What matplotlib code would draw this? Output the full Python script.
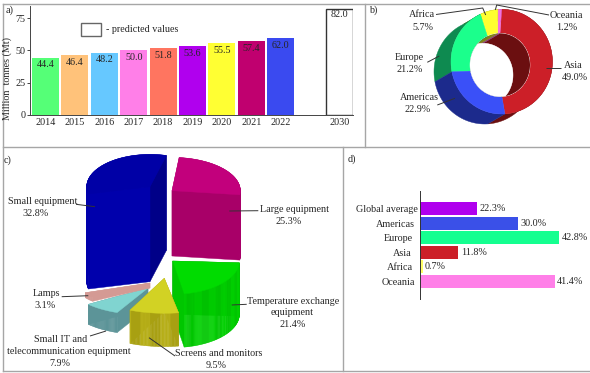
import numpy as np
import matplotlib
matplotlib.use('Agg')
import matplotlib.pyplot as plt
from matplotlib.patches import Polygon, Rectangle

plt.rcParams['font.family'] = ['Liberation Serif', 'DejaVu Serif']
plt.rcParams['font.size'] = 7.3
plt.rcParams['text.color'] = '#262626'
plt.rcParams['axes.labelcolor'] = '#262626'
plt.rcParams['xtick.color'] = '#262626'
plt.rcParams['ytick.color'] = '#262626'

W, H = 590, 373

# a) e-waste per year (the 2022 bar is drawn lower than its label in the source)
years = ['2014', '2015', '2016', '2017', '2018', '2019', '2020', '2021', '2022']
bar_heights = [44.4, 46.4, 48.2, 50.0, 51.8, 53.6, 55.5, 57.4, 59.3]
bar_labels = ['44.4', '46.4', '48.2', '50.0', '51.8', '53.6', '55.5', '57.4', '62.0']
year_colors = ['#55ff77', '#ffc27a', '#66c8ff', '#ff7fe8', '#ff7560',
               '#b000ee', '#ffff33', '#c0006f', '#3a4af0']
predicted_year = '2030'
predicted_value = 82.0

# b) share by region
donut_names = ['Asia', 'Americas', 'Europe', 'Africa', 'Oceania']
donut_shares = [49.0, 22.9, 21.2, 5.7, 1.2]
donut_colors = ['#cc1f28', '#3a50f8', '#1bff8c', '#ffff30', '#f070e0']
donut_walls = ['#6b0f10', '#1c2a8c', '#0e8a50', '#808018', '#8a3a80']

# c) share by equipment type
pie_names = ['Large equipment', 'Temperature exchange equipment', 'Screens and monitors',
             'Small IT and telecommunication equipment', 'Lamps', 'Small equipment']
pie_shares = [25.3, 21.4, 9.5, 7.9, 3.1, 32.8]

# d) collection rate by region (global bar is drawn shorter than its label in the source)
rate_names = ['Global average', 'Americas', 'Europe', 'Asia', 'Africa', 'Oceania']
rate_bars = [17.5, 30.0, 42.8, 11.8, 0.8, 41.4]
rate_labels = ['22.3%', '30.0%', '42.8%', '11.8%', '0.7%', '41.4%']
rate_colors = ['#b000ee', '#3a50e8', '#15ff90', '#cc1f28', '#ffff66', '#ff7fe8']


def px_axes(left, top, right, bottom):
    ax = fig.add_axes([left / W, 1 - bottom / H, (right - left) / W, (bottom - top) / H])
    ax.patch.set_visible(False)
    return ax


def arc(cx, cy, rx, ry, a0, a1):
    # angles in degrees, clockwise from the top, y axis points down
    t = np.radians(np.linspace(a0, a1, max(int(abs(a1 - a0)) + 2, 3)))
    return np.column_stack([cx + rx * np.sin(t), cy - ry * np.cos(t)])


def fill(pts, color, **kw):
    p = Polygon(pts, closed=True, facecolor=color, edgecolor=color, linewidth=0.3, **kw)
    bg.add_patch(p)
    return p


def leader(*pts):
    xs, ys = zip(*pts)
    bg.plot(xs, ys, color='#333333', lw=0.7, solid_capstyle='butt')


def draw_slice(a0, a1, apex, rx, ry, depth, top, wall, side0, side1, stripe=None):
    edge = arc(apex[0], apex[1], rx, ry, a0, a1)
    outline = np.vstack([apex, edge, apex])
    segs = []
    for i in range(len(outline) - 1):
        c = side0 if i == 0 else side1 if i == len(outline) - 2 else wall
        if stripe and 0 < i < len(outline) - 2 and (i // 7) % 2:
            c = stripe
        segs.append((outline[i], outline[i + 1], c))
    segs.sort(key=lambda s: s[0][1] + s[1][1])
    for p, q, c in segs:
        fill([p, q, q + [0, depth], p + [0, depth]], c)
    fill(outline, top)


fig = plt.figure(figsize=(W / 100, H / 100), dpi=100, facecolor='white')
bg = fig.add_axes([0, 0, 1, 1])
bg.set_xlim(0, W)
bg.set_ylim(H, 0)
bg.axis('off')

# panel frames
frame = '#a6a6a6'
for xs, ys in [((3, 590), (3.5, 3.5)), ((3, 590), (146.5, 146.5)), ((3, 590), (371, 371)),
               ((3, 3), (3.5, 371)), ((364.5, 364.5), (3.5, 146.5)), ((343, 343), (146.5, 371))]:
    bg.plot(xs, ys, color=frame, lw=1.0)

for s, x, y in [('a)', 9.5, 10), ('b)', 373, 10), ('c)', 8, 160), ('d)', 352, 159)]:
    bg.text(x, y, s, ha='center', va='center')

# --- a) bars
ax = px_axes(30, 6, 353, 114.7)
pos = list(range(len(years)))
ax.bar(pos, bar_heights, width=0.92, color=year_colors)
ax.bar(10, predicted_value, width=0.92, facecolor='white', edgecolor='#333333', linewidth=1.0)
for x, v, s in zip(pos, bar_heights, bar_labels):
    ax.annotate(s, (x, v), xytext=(0, -5.3), textcoords='offset points', ha='center', va='center')
ax.annotate(f'{predicted_value:.1f}', (10, predicted_value), xytext=(0, -3.8),
            textcoords='offset points', ha='center', va='center')
ax.set_xlim(-0.527, 10.46)
ax.set_ylim(0, 84.4)
ax.set_xticks(pos + [10], years + [predicted_year])
ax.set_yticks([0, 25, 50, 75])
ax.tick_params(axis='x', length=0, pad=2.5)
ax.tick_params(axis='y', length=2, width=0.6, pad=1.5)
ax.spines[['top', 'right']].set_visible(False)
for sp in ('left', 'bottom'):
    ax.spines[sp].set_linewidth(0.7)
    ax.spines[sp].set_color('#444444')
ax.set_ylabel('Million  tonnes (Mt)')
ax.yaxis.set_label_coords((12.3 - 30) / 323, (114.7 - 78) / 108.7)
bg.add_patch(Rectangle((80.7, 22.7), 20, 13, facecolor='white', edgecolor='#666666', lw=1.0))
bg.text(106, 29, '- predicted values', ha='left', va='center')

# --- b) donut
out_c = (501.7, 61.7)
out_r = (50.7, 52.3)
in_c = (500, 65)
in_r = (30, 31.7)
shift = np.array([-17, 10])
edges = np.cumsum([0] + donut_shares) / sum(donut_shares) * 360

spans = list(zip(edges[:-1], edges[1:]))
paint = [0, 4, 3, 2, 1]
for i in paint:
    a = arc(*out_c, *out_r, *spans[i])
    fill(np.vstack([a, (a + shift)[::-1]]), donut_walls[i])
for i in paint:
    a = arc(*out_c, *out_r, *spans[i])
    b = arc(*in_c, *in_r, *spans[i])
    fill(np.vstack([a, b[::-1]]), donut_colors[i])
hole_pts = arc(*in_c, *in_r, 0, 360)
hole = fill(hole_pts, 'white')
for i in paint:
    b = arc(*in_c, *in_r, *spans[i])
    p = fill(np.vstack([b, (b + shift)[::-1]]), donut_walls[i])
    p.set_clip_path(hole)
p = fill(hole_pts + shift, 'white')
p.set_clip_path(hole)

donut_pos = {'Asia': (573, 65, 575, 77), 'Americas': (419, 98, 417.3, 110),
             'Europe': (409, 58, 409.7, 70), 'Africa': (422, 14.7, 422.5, 27),
             'Oceania': (566.7, 15, 567, 27)}
for name, share in zip(donut_names, donut_shares):
    x0, y0, x1, y1 = donut_pos[name]
    bg.text(x0, y0, name, ha='center', va='center')
    bg.text(x1, y1, f'{share:.1f}%', ha='center', va='center')
leader((545.7, 67.7), (560.7, 67.7))
leader((437.3, 105), (455, 98.3))
leader((427.3, 62.3), (439.3, 56))
leader((436, 14.5), (482.7, 8), (485.7, 15))
leader((549, 15), (496.7, 5), (495.3, 10))

# --- c) exploded 3D pie, every slice has its own apex, radii and height
edges = np.cumsum([0] + pie_shares) / sum(pie_shares) * 360
a = list(zip(edges[:-1], edges[1:]))
draw_slice(a[0][0] + 6, a[0][1] + 6, (172, 190.7), 68.3, 33.3, 65.3,
           '#c2007c', '#a80068', '#a80068', '#a80068')
draw_slice(a[5][0] + 15, a[5][1] + 15, (150, 186.7), 63.3, 32.3, 95,
           '#0000a6', '#0000ac', '#0000ac', '#000088')
draw_slice(a[3][0] + 2, a[3][1] + 2, (148, 288), 75, 27, 20,
           '#80d4d0', '#5c9498', '#5c9498', '#5c9498')
draw_slice(a[4][0] + 2, a[4][1] + 2, (150, 283), 72, 22, 5,
           '#d49a94', '#d49a94', '#d49a94', '#d49a94')
draw_slice(a[1][0] + 2, a[1][1] + 2, (172.7, 261), 66.7, 33.3, 53.3,
           '#00dc00', '#00c600', '#009400', '#00c600', stripe='#00d000')
draw_slice(a[2][0] + 2, a[2][1] + 2, (164.3, 278.3), 83.3, 35, 33.3,
           '#d2d224', '#a8a012', '#a8a012', '#a8a012', stripe='#b6ae18')

pie_text = [
    [('Large equipment', 294, 210)],
    [('Temperature exchange', 293.3, 301), ('equipment', 291.7, 312.7)],
    [('Screens and monitors', 219, 353.7)],
    [('Small IT and', 60.7, 339), ('telecommunication equipment', 68.7, 351.7)],
    [('Lamps', 46, 293.3)],
    [('Small equipment', 42.3, 201.7)],
]
pct_pos = [(288.3, 221.7), (293, 324.3), (215.7, 365.7), (60, 363.3), (45.3, 305.3), (36, 213)]
for lines, share, (px, py) in zip(pie_text, pie_shares, pct_pos):
    for s, x, y in lines:
        bg.text(x, y, s, ha='center', va='center')
    bg.text(px, py, f'{share:.1f}%', ha='center', va='center')
leader((229.3, 211), (258.3, 210.7))
leader((231.7, 305), (246.7, 304.3))
leader((149, 337.7), (175, 356))
leader((90, 336), (106, 331))
leader((61.7, 296.7), (88.3, 295.7))
leader((76, 204.3), (95, 206.7))

# --- d) horizontal bars
ax = px_axes(420, 191, 570, 299)
ypos = list(range(len(rate_names)))
ax.barh(ypos, rate_bars, height=0.9, color=rate_colors)
for y, v, s in zip(ypos, rate_bars, rate_labels):
    ax.annotate(s, (v, y), xytext=(1.8, 0), textcoords='offset points', ha='left', va='center')
ax.set_xlim(0, 150 / 3.25)
ax.set_ylim(6.22, -1.23)
ax.set_xticks([])
ax.set_yticks(ypos, rate_names)
ax.tick_params(axis='y', length=0)
for tick, pad_px in zip(ax.yaxis.get_major_ticks(), [1.7, 5, 6.7, 8.3, 7, 5.3]):
    tick.set_pad(pad_px * 0.72)
ax.spines[['top', 'right', 'bottom']].set_visible(False)
ax.spines['left'].set_linewidth(0.7)
ax.spines['left'].set_color('#333333')

fig.savefig('out.png', dpi=100, facecolor='white')
